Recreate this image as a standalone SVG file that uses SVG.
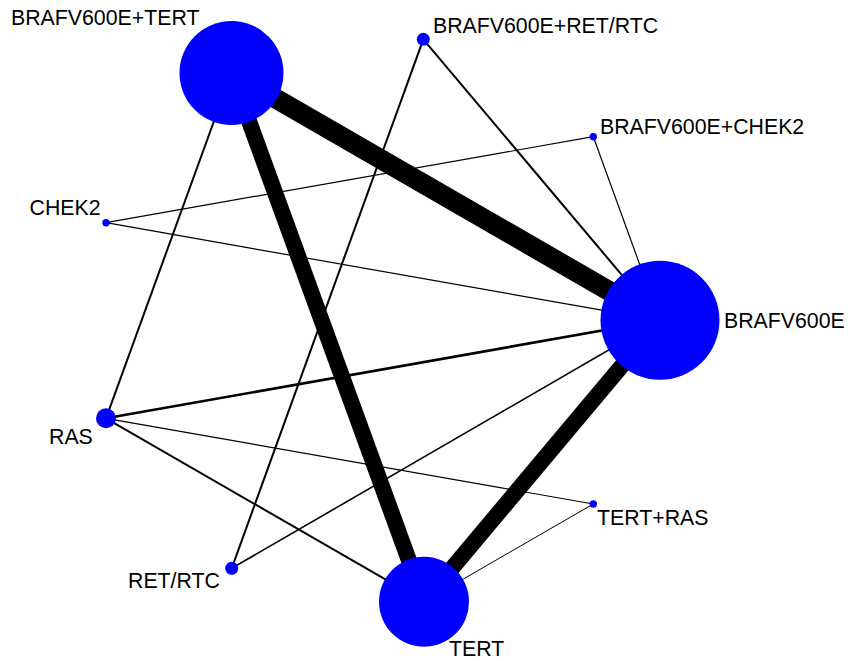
<svg xmlns="http://www.w3.org/2000/svg" width="848" height="661" viewBox="0 0 848 661">
<style>
.n{fill:#0000ff}
.e{stroke:#000;fill:none}
.t{font-family:"Liberation Sans",Arial,sans-serif;font-size:21.3px;fill:#000}
</style>
<rect width="848" height="661" fill="#fff"/>
<g id="connectors">
<line class="e" x1="231.5" y1="73" x2="660" y2="320.3" stroke-width="20"/>
<line class="e" x1="231.5" y1="73" x2="424" y2="601.7" stroke-width="16"/>
<line class="e" x1="660" y1="320.3" x2="424" y2="601.7" stroke-width="16"/>
<line class="e" x1="231.5" y1="73" x2="106" y2="418.3" stroke-width="2"/>
<line class="e" x1="423.3" y1="39.3" x2="660" y2="320.3" stroke-width="2"/>
<line class="e" x1="423.3" y1="39.3" x2="231.7" y2="568.3" stroke-width="2"/>
<line class="e" x1="593.3" y1="136.7" x2="106" y2="222.7" stroke-width="1.2"/>
<line class="e" x1="593.3" y1="136.7" x2="660" y2="320.3" stroke-width="1.2"/>
<line class="e" x1="106" y1="222.7" x2="660" y2="320.3" stroke-width="1.2"/>
<line class="e" x1="106" y1="418.3" x2="660" y2="320.3" stroke-width="2.6"/>
<line class="e" x1="106" y1="418.3" x2="593.3" y2="504" stroke-width="1.2"/>
<line class="e" x1="106" y1="418.3" x2="424" y2="601.7" stroke-width="2"/>
<line class="e" x1="231.7" y1="568.3" x2="660" y2="320.3" stroke-width="1.6"/>
<line class="e" x1="593.3" y1="504" x2="424" y2="601.7" stroke-width="1"/>
</g>
<g id="node-brafv600e-tert">
<circle class="n" cx="231.5" cy="73" r="52"/>
<text class="t" x="11" y="25">BRAFV600E+TERT</text>
</g>
<g id="node-brafv600e-ret-rtc">
<circle class="n" cx="423.3" cy="39.3" r="6.5"/>
<text class="t" x="433" y="33.3">BRAFV600E+RET/RTC</text>
</g>
<g id="node-brafv600e-chek2">
<circle class="n" cx="593.3" cy="136.7" r="3.7"/>
<text class="t" x="600" y="133.5">BRAFV600E+CHEK2</text>
</g>
<g id="node-chek2">
<circle class="n" cx="106" cy="222.7" r="3.7"/>
<text class="t" x="29.5" y="215">CHEK2</text>
</g>
<g id="node-brafv600e">
<circle class="n" cx="660" cy="320.3" r="59.5"/>
<text class="t" x="724" y="328">BRAFV600E</text>
</g>
<g id="node-ras">
<circle class="n" cx="106" cy="418.3" r="10"/>
<text class="t" x="49" y="443.5">RAS</text>
</g>
<g id="node-tert-ras">
<circle class="n" cx="593.3" cy="504" r="3.7"/>
<text class="t" x="597" y="525">TERT+RAS</text>
</g>
<g id="node-ret-rtc">
<circle class="n" cx="231.7" cy="568.3" r="6.5"/>
<text class="t" x="128" y="588.3">RET/RTC</text>
</g>
<g id="node-tert">
<circle class="n" cx="424" cy="601.7" r="45"/>
<text class="t" x="449" y="656">TERT</text>
</g>
</svg>
